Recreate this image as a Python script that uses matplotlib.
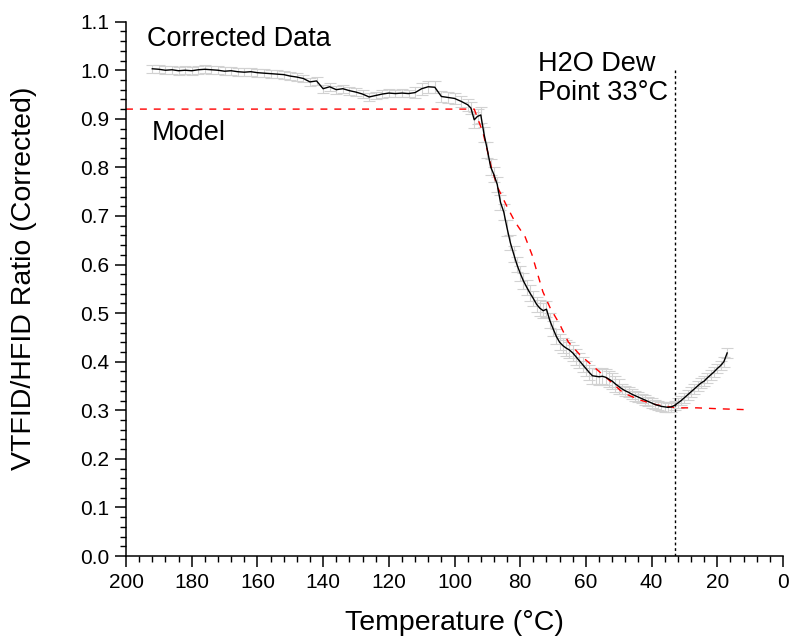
import numpy as np
import matplotlib.pyplot as plt
from matplotlib.ticker import MultipleLocator

plt.rcParams['font.family'] = ['Liberation Sans', 'DejaVu Sans']

# measured ratio (corrected) vs temperature
temp = [192, 190, 188, 186, 184, 182, 180, 178, 176, 174, 172, 170, 168, 166,
        164, 162, 160, 158, 156, 154, 152, 150, 148, 146, 144, 142, 140, 138,
        136, 134, 132, 130, 128, 126, 124, 122, 120, 118, 116, 114, 112, 110,
        108, 106, 104, 102, 100, 98, 96, 95, 94, 93, 92, 91, 90, 89, 88, 87,
        86, 85, 84, 83, 82, 81, 80, 79, 78, 77, 76, 75, 74, 73, 72, 71, 70,
        69, 68, 67, 66, 65, 64, 63, 62, 61, 60, 59, 58, 57, 56, 55, 54, 53,
        52, 51, 50, 49, 48, 47, 46, 45, 44, 43, 42, 41, 40, 39, 38, 37, 36,
        35, 34, 33, 32, 31, 30, 29, 28, 27, 26, 25, 24, 23, 22, 21, 20, 19,
        18, 17]
ratio = [1.003, 1.002, 1.000, 1.001, 0.999, 1.000, 0.999, 1.001, 1.002, 1.001,
         1.000, 0.998, 0.999, 0.997, 0.996, 0.997, 0.995, 0.994, 0.993, 0.992,
         0.991, 0.988, 0.986, 0.983, 0.976, 0.978, 0.962, 0.966, 0.960, 0.962,
         0.958, 0.955, 0.951, 0.945, 0.948, 0.951, 0.953, 0.952, 0.953, 0.952,
         0.954, 0.962, 0.966, 0.965, 0.946, 0.944, 0.942, 0.936, 0.929, 0.922,
         0.898, 0.905, 0.908, 0.868, 0.836, 0.801, 0.785, 0.765, 0.728, 0.708,
         0.675, 0.645, 0.622, 0.600, 0.582, 0.566, 0.553, 0.541, 0.530, 0.518,
         0.510, 0.505, 0.508, 0.485, 0.468, 0.452, 0.440, 0.433, 0.428, 0.424,
         0.418, 0.410, 0.402, 0.394, 0.386, 0.378, 0.371, 0.370, 0.369, 0.370,
         0.368, 0.364, 0.360, 0.354, 0.349, 0.344, 0.340, 0.337, 0.333, 0.330,
         0.327, 0.324, 0.321, 0.318, 0.315, 0.312, 0.310, 0.308, 0.307, 0.306,
         0.307, 0.310, 0.315, 0.320, 0.326, 0.332, 0.338, 0.344, 0.350, 0.356,
         0.360, 0.367, 0.373, 0.379, 0.386, 0.392, 0.400, 0.418]
err = [0.008] * 40 + [0.012] * 10 + [0.016] * 45 + [0.010] * 33

# model curve
model_t = [200, 94, 91.3, 88.6, 86.8, 84.0, 81.6, 78.5, 76.4, 74.9, 73.1, 70.9,
           67.9, 65.4, 61.8, 57.2, 53.6, 48.7, 43.5, 38.4, 32.3, 26.2, 19.2, 10]
model_r = [0.92, 0.92, 0.871, 0.795, 0.758, 0.719, 0.688, 0.657, 0.620, 0.585,
           0.544, 0.511, 0.476, 0.441, 0.414, 0.387, 0.366, 0.336, 0.321, 0.311,
           0.305, 0.305, 0.303, 0.301]

dew_point = 33

fig = plt.figure(figsize=(7.91, 6.43), dpi=100)
ax = fig.add_axes([0.1593, 0.1353, 0.8306, 0.8310])

ax.errorbar(temp, ratio, yerr=err, fmt='none', ecolor='#d2d2d2',
            elinewidth=0.8, capsize=4, capthick=0.8, zorder=1)
ax.plot(temp, ratio, color='black', lw=1.0, zorder=3)
ax.plot(model_t, model_r, color='red', lw=1.0, ls=(0, (5, 5)), zorder=2)
ax.plot([dew_point, dew_point], [0, 1.0], color='black', lw=1.0,
        ls=(0, (2, 2)), zorder=2)

ax.text(193.7, 1.064, 'Corrected Data', fontsize=19.5, va='center', ha='left')
ax.text(192.2, 0.871, 'Model', fontsize=19.5, va='center', ha='left')
ax.text(74.5, 0.984, 'H2O Dew\nPoint 33°C', fontsize=19.5, va='center',
        ha='left', linespacing=1.15)

ax.set_xlim(200, 0)
ax.set_ylim(0, 1.1)
ax.xaxis.set_major_locator(MultipleLocator(20))
ax.xaxis.set_minor_locator(MultipleLocator(4))
ax.yaxis.set_major_locator(MultipleLocator(0.1))
ax.yaxis.set_minor_locator(MultipleLocator(0.02))
ax.yaxis.set_major_formatter(plt.FuncFormatter(lambda v, p: f'{v:.1f}'))

for s in ['top', 'right']:
    ax.spines[s].set_visible(False)
for s in ['left', 'bottom']:
    ax.spines[s].set_linewidth(1.1)
ax.tick_params(which='major', direction='out', length=8, width=1.1,
               labelsize=15, pad=4)
ax.tick_params(which='minor', direction='out', length=4, width=1.0)

ax.set_xlabel('Temperature (°C)', fontsize=20.5, labelpad=13)
ax.set_ylabel('VTFID/HFID Ratio (Corrected)', fontsize=20.5, labelpad=26)
ax.yaxis.set_label_coords(-0.135, 0.52)

fig.savefig('out.png', dpi=100)
